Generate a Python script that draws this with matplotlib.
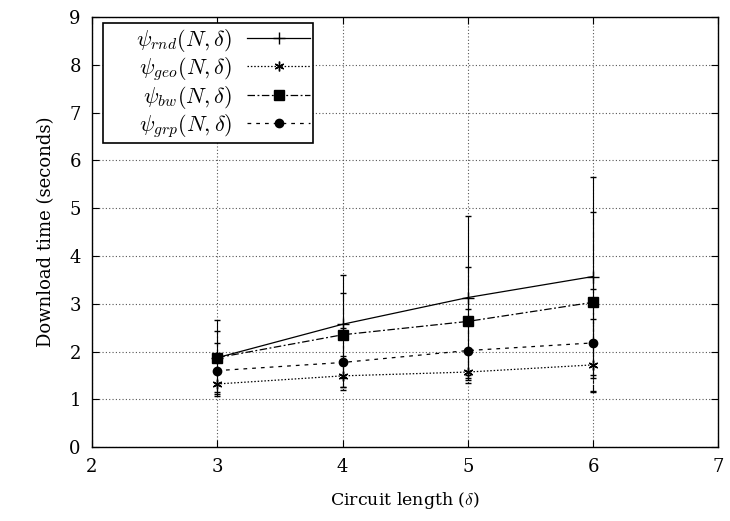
import matplotlib
matplotlib.use("Agg")
import matplotlib.pyplot as plt
from matplotlib.lines import Line2D

circuit_length = [3, 4, 5, 6]

rnd_mean = [1.87, 2.57, 3.13, 3.57]
rnd_low = [1.07, 1.25, 1.45, 1.50]
rnd_high = [2.65, 3.60, 4.83, 5.65]

geo_mean = [1.32, 1.49, 1.57, 1.72]
geo_low = [1.10, 1.20, 1.35, 1.15]
geo_high = [1.60, 1.90, 1.95, 2.68]

bw_mean = [1.87, 2.35, 2.63, 3.03]
bw_low = [1.30, 1.45, 1.50, 1.17]
bw_high = [2.43, 3.22, 3.77, 4.92]

grp_mean = [1.60, 1.77, 2.02, 2.18]
grp_low = [1.15, 1.25, 1.40, 1.45]
grp_high = [2.17, 2.50, 2.90, 3.30]

labels = [r"$\quad\;\;\psi_{rnd}(N,\delta)$", r"$\quad\;\;\psi_{geo}(N,\delta)$",
          r"$\quad\;\;\psi_{bw}(N,\delta)$", r"$\quad\;\;\psi_{grp}(N,\delta)$"]

plt.rcParams['font.family'] = ['DejaVu Serif']
plt.rcParams['mathtext.fontset'] = 'cm'

fig = plt.figure(figsize=(7.3, 5.21), dpi=100)
ax = fig.add_axes([0.126, 0.142, 0.858, 0.825])

series = [
    (rnd_mean, rnd_low, rnd_high, '-', '+', 8, labels[0]),
    (geo_mean, geo_low, geo_high, (0, (1.2, 1.5)), (6, 2, 0), 7, labels[1]),
    (bw_mean, bw_low, bw_high, (0, (6, 2, 1.5, 2)), 's', 6.5, labels[2]),
    (grp_mean, grp_low, grp_high, (0, (3, 4)), 'o', 6, labels[3]),
]

handles = []
for mean, low, high, ls, mk, ms, lab in series:
    yerr = [[m - l for m, l in zip(mean, low)], [h - m for m, h in zip(mean, high)]]
    cont = ax.errorbar(circuit_length, mean, yerr=yerr, color='black', lw=0.9,
                       linestyle=ls, marker=mk, markersize=ms, capsize=2,
                       elinewidth=0.8, capthick=0.8, markeredgewidth=1.0)
    for lc in cont[2]:
        lc.set_linestyle(ls)
    handles.append(Line2D([], [], color='black', lw=0.9, linestyle=ls, marker=mk,
                          markersize=ms, markeredgewidth=1.0, label=lab))

ax.set_xlim(2, 7)
ax.set_ylim(0, 9)
ax.set_xticks([2, 3, 4, 5, 6, 7])
ax.set_yticks(range(0, 10))
ax.tick_params(direction='in', top=True, right=True, labelsize=13, length=5, pad=8)
ax.grid(True, color='#555555', linestyle=(0, (1, 2)), linewidth=0.8)
for sp in ax.spines.values():
    sp.set_linewidth(1.0)

ax.set_xlabel(r"Circuit length ($\delta$)", fontsize=12.5, labelpad=10)
ax.set_ylabel("Download time (seconds)", fontsize=13, labelpad=10)

leg = ax.legend(handles=handles, loc='upper left', bbox_to_anchor=(0.0176, 0.986),
                borderaxespad=0, markerfirst=False, fontsize=16, frameon=True,
                fancybox=False, edgecolor='black', framealpha=1, handlelength=2.8,
                labelspacing=0.05, handletextpad=0.7, borderpad=0.15)
leg.get_frame().set_linewidth(1.2)

fig.savefig("out.png", dpi=100)
